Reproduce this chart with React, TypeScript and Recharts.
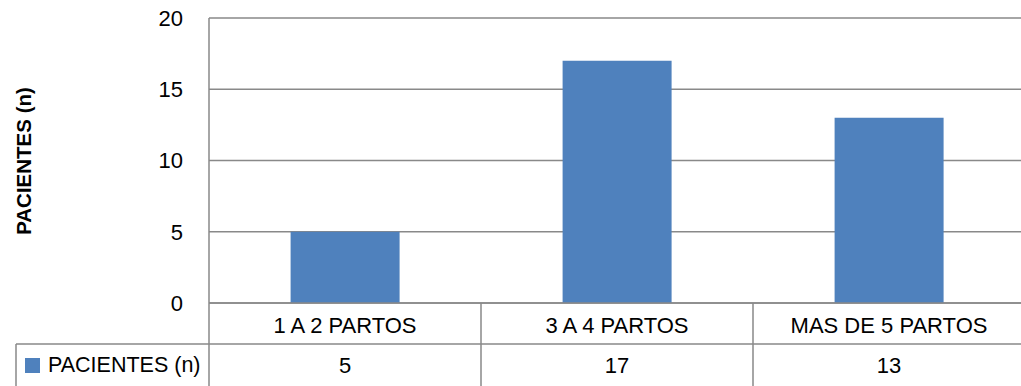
import { BarChart, Bar, XAxis, YAxis, CartesianGrid, Customized } from "recharts";

const CATEGORIES = ["1 A 2 PARTOS", "3 A 4 PARTOS", "MAS DE 5 PARTOS"];
const PACIENTES = [5, 17, 13];
const Y_TICKS = [0, 5, 10, 15, 20];
const SERIES_NAME = "PACIENTES (n)";

const W = 1025;
const H = 386;
const LEFT = 209;
const TABLE_H = 83;
const MARGIN = { top: 18, right: 0, bottom: 0, left: 0 };
const BAND = (W - LEFT) / CATEGORIES.length;
const GRID = "#898989";
const BLUE = "#4f81bd";
const FONT = "'Liberation Sans', Arial, sans-serif";

const data = CATEGORIES.map((name, i) => ({ name, value: PACIENTES[i] }));

function TableTick(props: any) {
  const { x, y, payload, index } = props;
  return (
    <g>
      <text x={x} y={y + 22} textAnchor="middle" dominantBaseline="central" fontSize={22} fill="#000" fontFamily={FONT}>
        {payload.value}
      </text>
      <text x={x} y={y + 62} textAnchor="middle" dominantBaseline="central" fontSize={22} fill="#000" fontFamily={FONT}>
        {PACIENTES[index]}
      </text>
      <line x1={x + BAND / 2} x2={x + BAND / 2} y1={y} y2={H} stroke={GRID} strokeWidth={1.5} />
    </g>
  );
}

function TableFrame() {
  const y0 = H - TABLE_H;
  return (
    <g>
      <line x1={LEFT} x2={LEFT} y1={y0} y2={H} stroke={GRID} strokeWidth={1.5} />
      <line x1={16} x2={W} y1={y0 + 41} y2={y0 + 41} stroke={GRID} strokeWidth={1.5} />
      <line x1={16} x2={16} y1={y0 + 41} y2={H} stroke={GRID} strokeWidth={1.5} />
      <rect x={25} y={358} width={15} height={15} fill={BLUE} />
      <text x={48} y={365} dominantBaseline="central" fontSize={21.5} fill="#000" fontFamily={FONT}>
        {SERIES_NAME}
      </text>
      <text
        x={23}
        y={161}
        transform="rotate(-90 23 161)"
        textAnchor="middle"
        dominantBaseline="central"
        fontSize={20.5}
        fontWeight="bold"
        fill="#000"
        fontFamily={FONT}
      >
        {SERIES_NAME}
      </text>
    </g>
  );
}

export default function App() {
  return (
    <div style={{ position: "absolute", left: 0, top: 0, width: 1021, height: H, overflow: "hidden", background: "#fff" }}>
      <BarChart width={W} height={H} data={data} margin={MARGIN} barCategoryGap="30%">
        <CartesianGrid vertical={false} stroke={GRID} strokeWidth={1.5} />
        <XAxis
          dataKey="name"
          height={TABLE_H}
          axisLine={{ stroke: GRID, strokeWidth: 1.5 }}
          tickLine={false}
          tickSize={0}
          tickMargin={0}
          interval={0}
          tick={<TableTick />}
        />
        <YAxis
          width={LEFT}
          domain={[0, 20]}
          ticks={Y_TICKS}
          axisLine={{ stroke: GRID, strokeWidth: 1.5 }}
          tickLine={false}
          tickMargin={20}
          tick={{ fontSize: 22, fill: "#000", fontFamily: FONT }}
        />
        <Bar dataKey="value" fill={BLUE} isAnimationActive={false} />
        <Customized component={TableFrame} />
      </BarChart>
    </div>
  );
}
